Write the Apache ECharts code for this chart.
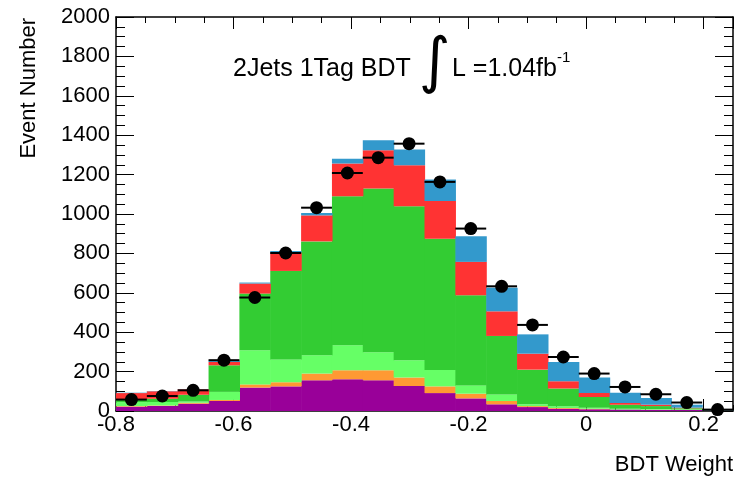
<!DOCTYPE html>
<html>
<head>
<meta charset="utf-8">
<script src="https://cdn.jsdelivr.net/npm/echarts@6/dist/echarts.min.js"></script>
<style>
  html, body { margin: 0; padding: 0; background: #fff; }
  #chart { width: 738px; height: 478px; }
</style>
</head>
<body>
<div id="chart"></div>
<script>
// histogram binning: 20 bins from -0.8 to 0.25
const xMin = -0.8
const xMax = 0.25
const nBins = 20

// stacked backgrounds, bottom to top (events per bin)
const purpleVals = [22, 25, 37, 51, 119, 125, 156, 161, 156, 127, 91, 64, 34, 20, 12, 9, 7, 6, 5, 1]
const orangeVals = [3, 3, 5, 5, 16, 21, 34, 46, 51, 43, 34, 24, 17, 5, 3, 2, 1, 1, 1, 0]
const lightGreenVals = [20, 18, 6, 41, 173, 116, 93, 127, 91, 87, 83, 42, 33, 9, 9, 6, 4, 3, 2, 0]
const greenVals = [16, 16, 35, 135, 288, 449, 578, 756, 831, 782, 667, 457, 297, 176, 90, 54, 20, 15, 6, 1]
const redVals = [30, 38, 27, 17, 51, 93, 132, 166, 194, 208, 191, 170, 125, 81, 37, 20, 9, 7, 3, 0]
const blueVals = [2, 2, 2, 7, 5, 8, 12, 25, 51, 80, 109, 130, 120, 98, 98, 79, 52, 34, 15, 1]

// observed data
const dataCounts = [58, 76, 105, 258, 576, 802, 1032, 1208, 1286, 1357, 1163, 926, 633, 437, 274, 190, 122, 85, 43, 7]

const layers = [
  { name: 'purple', vals: purpleVals, color: '#990099' },
  { name: 'orange', vals: orangeVals, color: '#ff9933' },
  { name: 'lightgreen', vals: lightGreenVals, color: '#66ff66' },
  { name: 'green', vals: greenVals, color: '#33cc33' },
  { name: 'red', vals: redVals, color: '#ff3333' },
  { name: 'blue', vals: blueVals, color: '#3399cc' }
]

const binWidth = (xMax - xMin) / nBins
const edges = []
for (let i = 0; i <= nBins; i++) edges.push(xMin + i * binWidth)

// build stacked rects [x0, x1, base, top]
const cum = new Array(nBins).fill(0)
const histSeries = layers.map(function (layer) {
  const items = layer.vals.map(function (v, i) {
    const base = cum[i]
    cum[i] += v
    return [edges[i], edges[i + 1], base, cum[i]]
  })
  return {
    name: layer.name,
    type: 'custom',
    xAxisIndex: 0,
    yAxisIndex: 0,
    z: 3,
    data: items,
    renderItem: function (params, api) {
      const p0 = api.coord([api.value(0), api.value(3)])
      const p1 = api.coord([api.value(1), api.value(2)])
      return {
        type: 'rect',
        shape: { x: p0[0], y: p0[1], width: p1[0] - p0[0] + 0.6, height: p1[1] - p0[1] },
        style: { fill: layer.color }
      }
    }
  }
})

const pointSeries = {
  name: 'data',
  type: 'custom',
  xAxisIndex: 0,
  yAxisIndex: 0,
  z: 10,
  data: dataCounts.map(function (v, i) { return [(edges[i] + edges[i + 1]) / 2, v] }),
  renderItem: function (params, api) {
    const c = api.coord([api.value(0), api.value(1)])
    const half = api.size([binWidth, 0])[0] / 2
    return {
      type: 'group',
      children: [
        { type: 'line', shape: { x1: c[0] - half, y1: c[1], x2: c[0] + half, y2: c[1] }, style: { stroke: '#000', lineWidth: 2 } },
        { type: 'circle', shape: { cx: c[0], cy: c[1], r: 6.5 }, style: { fill: '#000' } }
      ]
    }
  }
}

const font = 'Liberation Sans, Arial, sans-serif'

function xAxisCfg(pos, step, tickLen, showLabel, showLine) {
  return {
    type: 'value',
    position: pos,
    min: xMin,
    max: xMax,
    interval: step,
    splitLine: { show: false },
    axisLine: { show: showLine, onZero: false, lineStyle: { color: '#000', width: 1.5 } },
    axisTick: { show: true, inside: true, length: tickLen, lineStyle: { color: '#000', width: 1 } },
    axisLabel: {
      show: showLabel,
      showMaxLabel: false,
      margin: 3,
      color: '#000',
      fontSize: 22,
      fontFamily: font,
      formatter: function (v) { return Math.abs(v) < 1e-9 ? '0' : String(+v.toFixed(2)) }
    }
  }
}

function yAxisCfg(pos, showLabel) {
  return {
    type: 'value',
    position: pos,
    min: 0,
    max: 2000,
    interval: 200,
    splitLine: { show: false },
    axisLine: { show: true, onZero: false, lineStyle: { color: '#000', width: 1.5 } },
    axisTick: { show: true, inside: true, length: 18, lineStyle: { color: '#000', width: 1 } },
    minorTick: { show: true, splitNumber: 4, length: 9, lineStyle: { color: '#000', width: 1 } },
    axisLabel: {
      show: showLabel,
      margin: 6,
      color: '#000',
      fontSize: 22,
      fontFamily: font,
      padding: [7, 0, 0, 0],
      formatter: function (v) { return String(v) }
    }
  }
}

const chart = echarts.init(document.getElementById('chart'), null, { renderer: 'canvas' })
chart.setOption({
  animation: false,
  backgroundColor: '#fff',
  grid: { left: 116, right: 5, top: 17, bottom: 67 },
  xAxis: [
    xAxisCfg('bottom', 0.2, 12, true, true),
    xAxisCfg('bottom', 0.05, 6, false, false),
    xAxisCfg('top', 0.2, 12, false, true),
    xAxisCfg('top', 0.05, 6, false, false)
  ],
  yAxis: [yAxisCfg('left', true), yAxisCfg('right', false)],
  series: histSeries.concat([pointSeries]),
  graphic: [
    { type: 'text', left: 233, top: 57, style: { text: '2Jets 1Tag BDT', font: '25px ' + font, fill: '#000' } },
    { type: 'text', left: 419, top: 35, style: { text: '\u222B', font: '61px DejaVu Sans', fill: '#000' } },
    { type: 'text', left: 452, top: 57, style: { text: 'L =1.04fb', font: '25px ' + font, fill: '#000' } },
    { type: 'text', left: 557, top: 50, style: { text: '-1', font: '15px ' + font, fill: '#000' } },
    { type: 'text', x: 29, y: 18, rotation: Math.PI / 2, style: { text: 'Event Number', font: '22px ' + font, fill: '#000', align: 'right', verticalAlign: 'middle' } },
    { type: 'text', x: 733, y: 465, style: { text: 'BDT Weight', font: '22px ' + font, fill: '#000', align: 'right', verticalAlign: 'middle' } }
  ]
})
</script>
</body>
</html>
